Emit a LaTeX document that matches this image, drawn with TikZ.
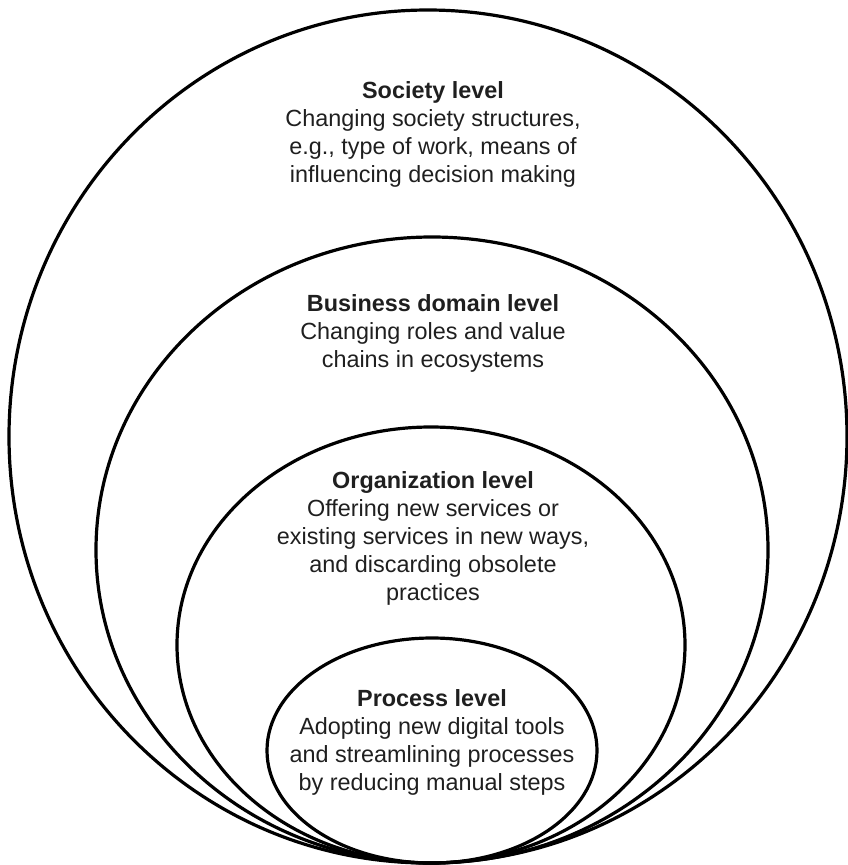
\documentclass[tikz,border=0pt]{standalone}
\usepackage{fontspec}
\setmainfont{Liberation Sans}
\begin{document}
\begin{tikzpicture}[x=1pt,y=-1pt,
  ring/.style={draw=black,line width=3.2pt},
  levelbox/.style={align=center,anchor=base,inner sep=0pt,
    font=\fontsize{23.4}{28}\selectfont,text=black!88}]
\useasboundingbox (0,0) rectangle (847,865);
% nested levels, all touching at the bottom
\draw[ring] (428,436.5) ellipse [x radius=419, y radius=426.5];
\draw[ring] (432,550) ellipse [x radius=336, y radius=313];
\draw[ring] (431,645) ellipse [x radius=254, y radius=218];
\draw[ring] (432,750.5) ellipse [x radius=165, y radius=112.5];
% level descriptions (node base = baseline of the last line)
\node[levelbox] (society) at (433,182) {\textbf{Society level}\\Changing society structures,\\e.g., type of work, means of\\influencing decision making};
\node[levelbox] (business) at (433,367) {\textbf{Business domain level}\\Changing roles and value\\chains in ecosystems};
\node[levelbox] (organization) at (433,600) {\textbf{Organization level}\\Offering new services or\\existing services in new ways,\\and discarding obsolete\\practices};
\node[levelbox] (process) at (432,790) {\textbf{Process level}\\Adopting new digital tools\\and streamlining processes\\by reducing manual steps};
\end{tikzpicture}
\end{document}
